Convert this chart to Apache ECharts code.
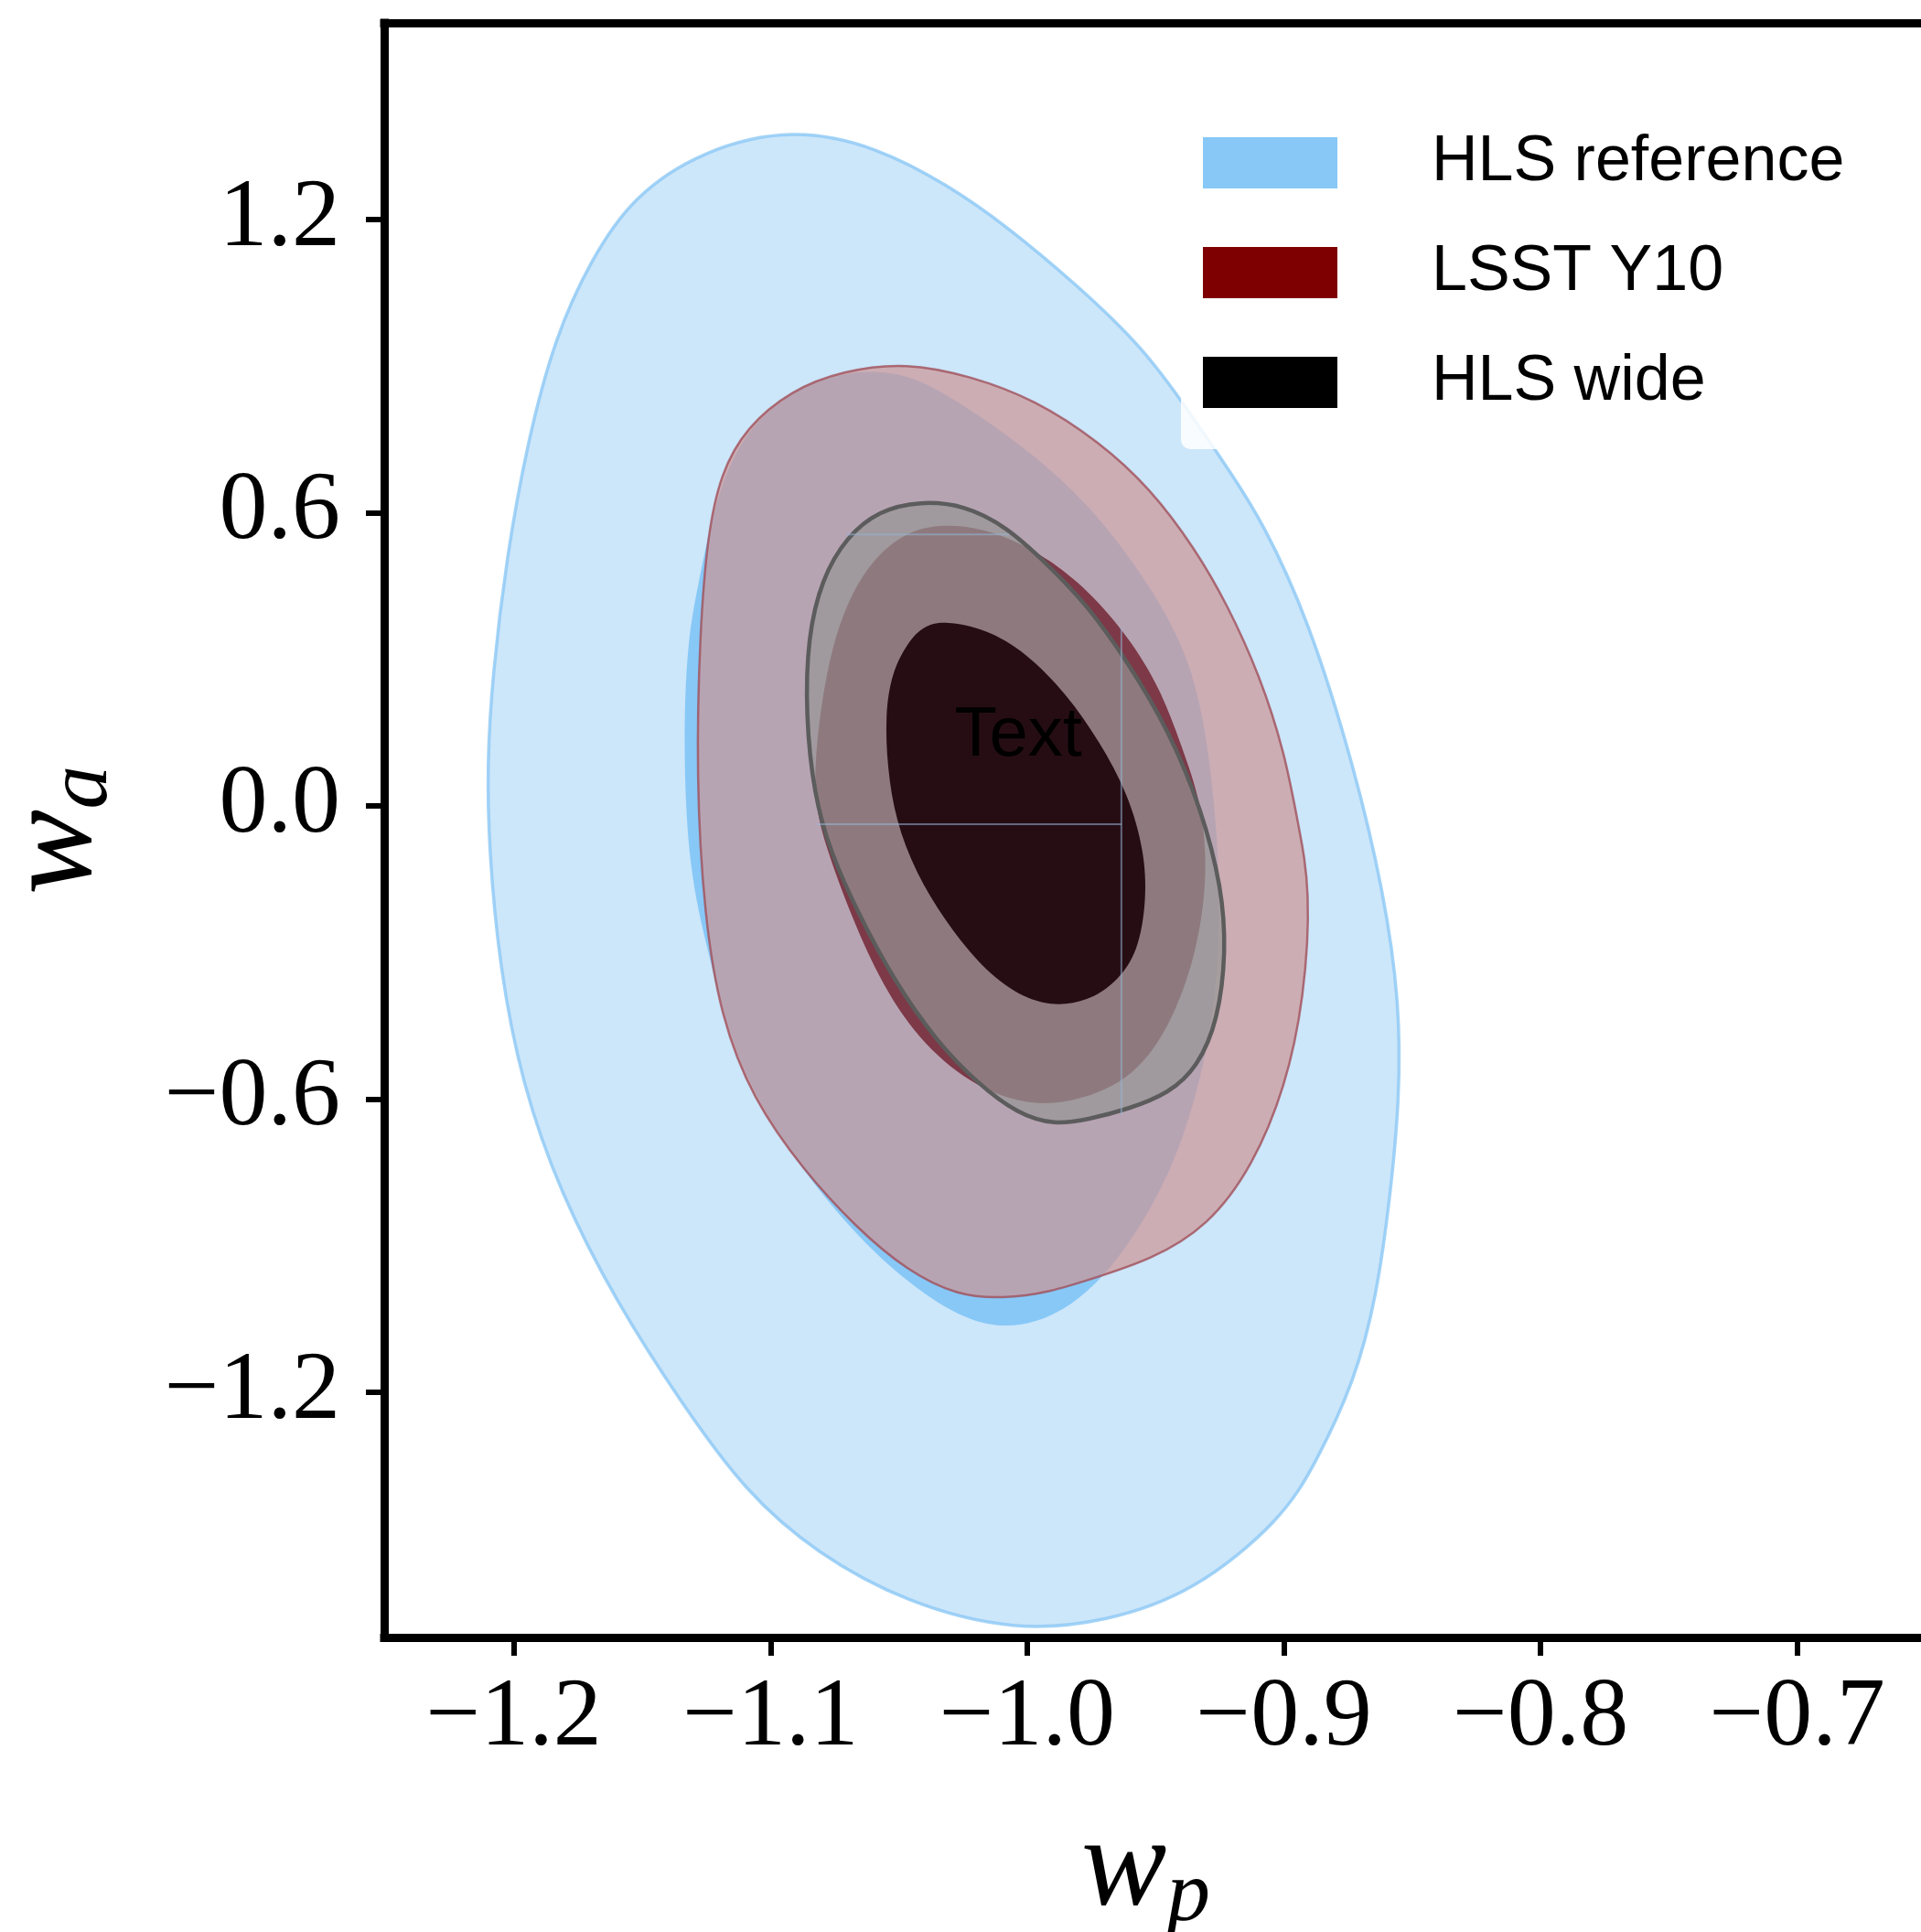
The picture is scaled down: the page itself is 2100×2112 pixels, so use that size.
<!DOCTYPE html>
<html>
<head>
<meta charset="utf-8">
<script src="https://cdn.jsdelivr.net/npm/echarts@6/dist/echarts.min.js"></script>
<style>
html,body{margin:0;padding:0;background:#fff;}
#chart{width:2100px;height:2112px;}
</style>
</head>
<body>
<div id="chart"></div>
<script>
// Tick values
const xTicks = [-1.2, -1.1, -1.0, -0.9, -0.8, -0.7];
const yTicks = [-1.2, -0.6, 0.0, 0.6, 1.2];

// Contours (w_p, w_a)
const hlsRef2 = [[-1.091,1.3886],[-1.0584,1.349],[-1.031,1.2715],[-1.0082,1.188],[-0.9811,1.069],[-0.9547,0.938],[-0.9369,0.807],[-0.9199,0.676],[-0.9084,0.582],[-0.8906,0.385],[-0.8727,0.083],[-0.8609,-0.180],[-0.8549,-0.4026],[-0.8549,-0.600],[-0.8585,-0.797],[-0.8638,-1.0037],[-0.8724,-1.178],[-0.8877,-1.3464],[-0.9005,-1.4588],[-0.9347,-1.6086],[-0.969,-1.670],[-1.0046,-1.690],[-1.047,-1.632],[-1.082,-1.530],[-1.1095,-1.406],[-1.1345,-1.224],[-1.1596,-1.020],[-1.182,-0.792],[-1.197,-0.566],[-1.2056,-0.3288],[-1.2097,-0.0899],[-1.2104,0.0891],[-1.2083,0.268],[-1.2029,0.5075],[-1.1947,0.7459],[-1.1839,0.9607],[-1.1702,1.116],[-1.1538,1.2476],[-1.1265,1.343]];
const hlsRef1 = [[-1.072,0.890],[-1.052,0.890],[-1.037,0.861],[-1.017,0.794],[-0.997,0.717],[-0.977,0.622],[-0.9595,0.507],[-0.942,0.364],[-0.932,0.221],[-0.9258,-0.036],[-0.9245,-0.282],[-0.9295,-0.509],[-0.942,-0.736],[-0.962,-0.918],[-0.9846,-1.0425],[-1.015,-1.085],[-1.047,-0.978],[-1.072,-0.850],[-1.0969,-0.679],[-1.1148,-0.504],[-1.1243,-0.298],[-1.132,-0.129],[-1.134,0.125],[-1.1325,0.339],[-1.1279,0.459],[-1.1211,0.639],[-1.1097,0.770],[-1.0923,0.848]];
const lsst2 = [[-1.047,0.908],[-1.022,0.880],[-0.997,0.832],[-0.972,0.746],[-0.952,0.650],[-0.9345,0.526],[-0.922,0.412],[-0.9094,0.268],[-0.8995,0.106],[-0.8945,-0.036],[-0.8895,-0.169],[-0.892,-0.395],[-0.8995,-0.577],[-0.912,-0.736],[-0.9295,-0.861],[-0.952,-0.929],[-0.972,-0.963],[-0.992,-0.997],[-1.0096,-1.008],[-1.027,-1.003],[-1.047,-0.951],[-1.067,-0.861],[-1.087,-0.747],[-1.107,-0.600],[-1.1195,-0.430],[-1.1258,-0.226],[-1.129,0.058],[-1.1275,0.364],[-1.1245,0.555],[-1.1195,0.680],[-1.1095,0.775],[-1.092,0.851],[-1.072,0.891]];
const lsst1 = [[-1.0322,0.578],[-1.0164,0.567],[-1.0036,0.540],[-0.9925,0.508],[-0.9765,0.444],[-0.9606,0.347],[-0.9479,0.240],[-0.9383,0.0996],[-0.932,0.003],[-0.9296,-0.137],[-0.9336,-0.298],[-0.9447,-0.459],[-0.9606,-0.567],[-0.9845,-0.610],[-1.0004,-0.610],[-1.0196,-0.5775],[-1.0402,-0.4916],[-1.056,-0.373],[-1.0688,-0.223],[-1.0784,-0.083],[-1.0823,-0.0075],[-1.0831,0.0996],[-1.0768,0.336],[-1.064,0.487],[-1.048,0.562]];
const hlsWide2 = [[-1.0418,0.6243],[-1.0243,0.6157],[-1.0083,0.5727],[-0.9925,0.497],[-0.9765,0.411],[-0.9606,0.293],[-0.9447,0.1536],[-0.932,-0.0079],[-0.9241,-0.169],[-0.9225,-0.298],[-0.9256,-0.438],[-0.9336,-0.5346],[-0.9447,-0.588],[-0.9606,-0.6206],[-0.9765,-0.642],[-0.9893,-0.653],[-1.0036,-0.631],[-1.0196,-0.567],[-1.0354,-0.481],[-1.0513,-0.3625],[-1.0656,-0.223],[-1.0768,-0.0936],[-1.0831,0.0243],[-1.0863,0.1858],[-1.0855,0.347],[-1.080,0.465],[-1.0704,0.551],[-1.0577,0.605]];
const hlsWide1 = [[-1.0322,0.379],[-1.0164,0.3633],[-1.0004,0.3146],[-0.9845,0.2285],[-0.9718,0.132],[-0.9606,0.0243],[-0.9543,-0.0936],[-0.9535,-0.1906],[-0.9566,-0.298],[-0.9654,-0.3625],[-0.9765,-0.400],[-0.9908,-0.411],[-1.0052,-0.384],[-1.0196,-0.3195],[-1.0322,-0.2335],[-1.0434,-0.137],[-1.0513,-0.029],[-1.0545,0.0787],[-1.0553,0.1858],[-1.0529,0.2715],[-1.0465,0.336],[-1.0402,0.369]];

// faint guide segments seen in the picture: [x1, y1, x2, y2]
const guideSegments = [[-1.0704,0.556,-1.0071,0.556],[-0.9633,0.365,-0.9633,-0.633],[-1.0819,-0.0375,-0.9633,-0.0375]];
// annotation text
const annotations = [[-1.0035, 0.142, 'Text']];

const legendNames = ['HLS reference', 'LSST Y10', 'HLS wide'];
const legendColors = ['#87c8f7', '#7f0000', '#000000'];

const chart = echarts.init(document.getElementById('chart'), null, {renderer: 'canvas'});

function fmt(v) {
  const s = Math.abs(v).toFixed(1);
  return (v < -1e-9 ? '\u2212' : '') + s;
}

// closed smooth curve (uniform cubic B-spline, as Bezier segments) over pixel points
function closedCurvePath(P) {
  const n = P.length;
  const f = (v) => v.toFixed(2);
  const pt = (i) => P[(i + n) % n];
  const a0 = pt(-1), b0 = pt(0), c0 = pt(1);
  let d = 'M' + f((a0[0] + 4 * b0[0] + c0[0]) / 6) + ',' + f((a0[1] + 4 * b0[1] + c0[1]) / 6);
  for (let i = 0; i < n; i++) {
    const a = pt(i), b = pt(i + 1), c = pt(i + 2);
    d += 'C' + f((2 * a[0] + b[0]) / 3) + ',' + f((2 * a[1] + b[1]) / 3) + ' ' +
         f((a[0] + 2 * b[0]) / 3) + ',' + f((a[1] + 2 * b[1]) / 3) + ' ' +
         f((a[0] + 4 * b[0] + c[0]) / 6) + ',' + f((a[1] + 4 * b[1] + c[1]) / 6);
  }
  return d + 'Z';
}

function polySeries(name, data, fill, stroke, lw) {
  return {
    type: 'custom', name: name, silent: true, animation: false,
    data: data,
    renderItem: function (params, api) {
      if (params.dataIndexInside !== 0) return;
      const pts = [];
      for (let i = 0; i < params.dataInsideLength; i++) {
        pts.push(api.coord([api.value(0, i), api.value(1, i)]));
      }
      return {
        type: 'path',
        shape: {pathData: closedCurvePath(pts)},
        style: {fill: fill, stroke: stroke || null, lineWidth: lw || 0}
      };
    }
  };
}

const serifFont = 'Liberation Serif';
const nameRich = {
  w: {fontFamily: serifFont, fontStyle: 'italic', fontSize: 140, lineHeight: 140, color: '#000'},
  s: {fontFamily: serifFont, fontStyle: 'italic', fontSize: 95, lineHeight: 95, padding: [58, 0, 0, 0], color: '#000'}
};
const nameRichX = {
  w: nameRich.w,
  s: Object.assign({}, nameRich.s, {padding: [58, 20, 0, 0]})
};

const option = {
  backgroundColor: '#ffffff',
  animation: false,
  grid: {left: 420, top: 25, width: 1685, height: 1765, containLabel: false, outerBoundsMode: 'none'},
  legend: {
    orient: 'vertical', left: 1291, top: 105,
    padding: [38, 20, 38, 24],
    itemWidth: 147, itemHeight: 56, itemGap: 50,
    icon: 'rect',
    backgroundColor: 'rgba(255,255,255,0.85)', borderRadius: 10,
    selectedMode: false,
    textStyle: {fontFamily: 'Liberation Sans', fontSize: 70, color: '#000', lineHeight: 56, padding: [0, 0, 0, 98]},
    data: legendNames.map((n, i) => ({name: n, icon: 'rect', itemStyle: {color: legendColors[i]}}))
  },
  xAxis: [{
    type: 'value', min: -1.2505, max: -0.65, position: 'bottom',
    axisLine: {onZero: false, lineStyle: {color: '#000', width: 9, cap: 'square'}},
    axisTick: {customValues: xTicks, length: 20, lineStyle: {color: '#000', width: 6}},
    axisLabel: {customValues: xTicks, formatter: fmt, margin: 36, fontFamily: serifFont, fontSize: 106, color: '#000'},
    splitLine: {show: false},
    name: '{w|w}{s|p}', nameLocation: 'middle', nameGap: 185,
    nameTextStyle: {rich: nameRichX}
  }, {
    type: 'value', min: -1.2505, max: -0.65, position: 'top',
    axisLine: {onZero: false, lineStyle: {color: '#000', width: 9, cap: 'square'}},
    axisTick: {show: false}, axisLabel: {show: false}, splitLine: {show: false}
  }],
  yAxis: {
    type: 'value', min: -1.702, max: 1.603, position: 'left',
    axisLine: {onZero: false, lineStyle: {color: '#000', width: 9, cap: 'square'}},
    axisTick: {customValues: yTicks, length: 20, lineStyle: {color: '#000', width: 6}},
    axisLabel: {customValues: yTicks, formatter: fmt, margin: 48, fontFamily: serifFont, fontSize: 106, color: '#000'},
    splitLine: {show: false},
    name: '{w|w}{s|a}', nameLocation: 'middle', nameGap: 288,
    nameTextStyle: {rich: nameRich}
  },
  series: [
    polySeries('HLS reference', hlsRef2, '#cce6fa', 'rgba(140,200,245,0.8)', 3.5),
    polySeries('HLS reference', hlsRef1, '#87c8f7', null, 0),
    polySeries('LSST Y10', lsst2, 'rgba(204,148,150,0.7)', 'rgba(160,80,90,0.8)', 2.5),
    polySeries('LSST Y10', lsst1, 'rgba(100,12,25,0.7)', null, 0),
    polySeries('HLS wide', hlsWide2, 'rgba(150,150,150,0.7)', '#5c5c5c', 4.5),
    polySeries('HLS wide', hlsWide1, '#260d14', null, 0),
    {
      type: 'custom', silent: true, animation: false,
      data: guideSegments,
      renderItem: function (params, api) {
        const p1 = api.coord([api.value(0), api.value(1)]);
        const p2 = api.coord([api.value(2), api.value(3)]);
        return {type: 'line', shape: {x1: p1[0], y1: p1[1], x2: p2[0], y2: p2[1]},
          style: {stroke: 'rgba(150,180,215,0.55)', lineWidth: 2}};
      }
    },
    {
      type: 'custom', silent: true, animation: false,
      data: annotations,
      renderItem: function (params, api) {
        const p = api.coord([api.value(0), api.value(1)]);
        return {type: 'text', x: p[0], y: p[1],
          style: {text: annotations[params.dataIndex][2], fill: '#000', font: '76px "Liberation Sans"', align: 'center', verticalAlign: 'middle'}};
      }
    }
  ]
};
chart.setOption(option);
</script>
</body>
</html>
